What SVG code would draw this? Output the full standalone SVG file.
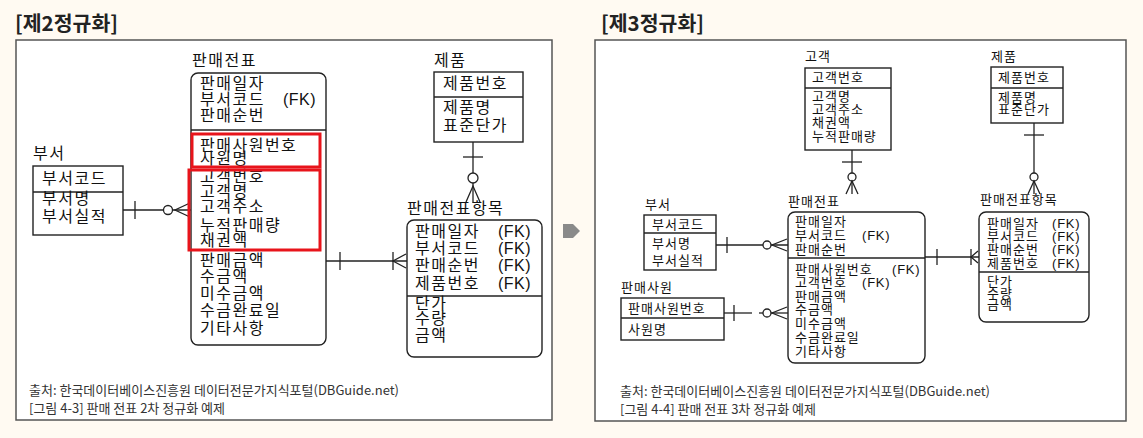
<svg xmlns="http://www.w3.org/2000/svg" width="1143" height="438" viewBox="0 0 1143 438">
<style>
.bg{fill:#fffaf2}
.frame{fill:#fff;stroke:#555;stroke-width:1.5}
.box{fill:#fff;stroke:#222;stroke-width:1.4}
.div{stroke:#222;stroke-width:1.4}
.ln{stroke:#222;stroke-width:1.3;fill:none}
.cir{stroke:#222;stroke-width:1.3;fill:#fff}
.red{fill:none;stroke:#e8141b;stroke-width:3}
.k17{font-family:"Noto Sans CJK KR","Noto Sans",sans-serif;font-size:16px;letter-spacing:1.5px;fill:#111}
.k14{font-family:"Noto Sans CJK KR","Noto Sans",sans-serif;font-size:13px;letter-spacing:1px;fill:#111}
.fk17{font-family:"Liberation Sans",Arial,sans-serif;font-size:16px;letter-spacing:0.5px;fill:#111}
.fk14{font-family:"Liberation Sans",Arial,sans-serif;font-size:13px;fill:#111;letter-spacing:0.8px}
.ttl{font-family:"Noto Sans CJK KR","Noto Sans",sans-serif;font-size:20.5px;font-weight:bold;fill:#222}
.cap{font-family:"Noto Sans CJK KR","Noto Sans",sans-serif;font-size:13px;fill:#333}
</style>
<rect class="bg" x="0" y="0" width="1143" height="438"/>

<!-- Panel frames and titles -->
<g id="panel-left">
<text class="ttl" x="15" y="31">[제2정규화]</text>
<rect class="frame" x="16" y="40" width="536" height="380"/>
<text class="cap" x="29" y="395">출처: 한국데이터베이스진흥원 데이터전문가지식포털(DBGuide.net)</text>
<text class="cap" x="29" y="413">[그림 4-3] 판매 전표 2차 정규화 예제</text>
</g>
<g id="panel-right">
<text class="ttl" x="601" y="31">[제3정규화]</text>
<rect class="frame" x="595" y="40" width="531" height="381"/>
<text class="cap" x="620" y="396">출처: 한국데이터베이스진흥원 데이터전문가지식포털(DBGuide.net)</text>
<text class="cap" x="620" y="414">[그림 4-4] 판매 전표 3차 정규화 예제</text>
</g>
<g id="arrow-between">
<polygon points="563,224 573,224 580,231 573,238 563,238" fill="#8a8a8a"/>
</g>

<!-- Connectors -->
<g id="connectors">
<!-- L: 부서 -> 판매전표 -->
<line class="ln" x1="123" y1="210" x2="191" y2="210"/>
<line class="ln" x1="135" y1="201" x2="135" y2="219"/>
<circle class="cir" cx="168" cy="210" r="4.5"/>
<polyline class="ln" points="190,203 175,210 190,217"/>
<!-- L: 판매전표 -> 판매전표항목 -->
<line class="ln" x1="326" y1="261" x2="407" y2="261"/>
<line class="ln" x1="340" y1="252" x2="340" y2="270"/>
<line class="ln" x1="393" y1="252" x2="393" y2="270"/>
<polyline class="ln" points="406,254 393,261 406,268"/>
<!-- L: 제품 -> 판매전표항목 -->
<line class="ln" x1="473" y1="142" x2="473" y2="203"/>
<line class="ln" x1="463" y1="157" x2="483" y2="157"/>
<circle class="cir" cx="473" cy="178" r="5"/>
<polyline class="ln" points="466,202 473,186 480,202"/>
<!-- R: 고객 -> 판매전표 -->
<line class="ln" x1="852" y1="150" x2="852" y2="194"/>
<line class="ln" x1="842" y1="162" x2="862" y2="162"/>
<circle class="cir" cx="852" cy="177" r="4"/>
<polyline class="ln" points="846,194 852,181 858,194"/>
<!-- R: 제품 -> 판매전표항목 -->
<line class="ln" x1="1034" y1="123" x2="1034" y2="194"/>
<line class="ln" x1="1024" y1="135" x2="1044" y2="135"/>
<circle class="cir" cx="1034" cy="177" r="4"/>
<polyline class="ln" points="1028,194 1034,181 1040,194"/>
<!-- R: 부서 -> 판매전표 -->
<line class="ln" x1="716" y1="245" x2="788" y2="245"/>
<line class="ln" x1="727" y1="237" x2="727" y2="253"/>
<circle class="cir" cx="767" cy="245" r="4"/>
<polyline class="ln" points="787,239 772,245 787,251"/>
<!-- R: 판매사원 -> 판매전표 -->
<line class="ln" x1="724" y1="313" x2="752" y2="313"/>
<line class="ln" x1="759" y1="313" x2="788" y2="313"/>
<line class="ln" x1="734" y1="305" x2="734" y2="321"/>
<circle class="cir" cx="767" cy="313" r="4"/>
<polyline class="ln" points="787,307 772,313 787,319"/>
<!-- R: 판매전표 -> 판매전표항목 -->
<line class="ln" x1="925" y1="257" x2="979" y2="257"/>
<line class="ln" x1="937" y1="249" x2="937" y2="265"/>
<line class="ln" x1="971" y1="249" x2="971" y2="265"/>
<polyline class="ln" points="978,251 971,257 978,263"/>
</g>

<!-- LEFT PANEL NODES -->
<g id="L-bu">
<text class="k17" x="33" y="159">부서</text>
<rect class="box" x="33" y="166" width="90" height="69"/>
<line class="div" x1="33" y1="192" x2="123" y2="192"/>
<text class="k17" x="42" y="184">부서코드</text>
<text class="k17" x="42" y="204">부서명</text>
<text class="k17" x="42" y="222">부서실적</text>
</g>

<g id="L-panmae">
<text class="k17" x="192" y="66">판매전표</text>
<rect class="box" x="191" y="73" width="135" height="272" rx="7"/>
<line class="div" x1="191" y1="130" x2="326" y2="130"/>
<text class="k17" x="200" y="89">판매일자</text>
<text class="k17" x="200" y="105">부서코드</text><text class="fk17" x="283" y="105">(FK)</text>
<text class="k17" x="200" y="121">판매순번</text>
<text class="k17" x="200" y="151">판매사원번호</text>
<text class="k17" x="200" y="164">사원명</text>
<text class="k17" x="200" y="182">고객번호</text>
<text class="k17" x="200" y="197">고객명</text>
<text class="k17" x="200" y="212">고객주소</text>
<text class="k17" x="200" y="231">누적판매량</text>
<text class="k17" x="200" y="246">채권액</text>
<text class="k17" x="200" y="266">판매금액</text>
<text class="k17" x="200" y="282">수금액</text>
<text class="k17" x="200" y="299">미수금액</text>
<text class="k17" x="200" y="316">수금완료일</text>
<text class="k17" x="200" y="334">기타사항</text>
<rect class="red" x="192" y="134" width="128" height="33"/>
<rect class="red" x="189" y="170" width="131" height="80"/>
</g>

<g id="L-jepum">
<text class="k17" x="434" y="66">제품</text>
<rect class="box" x="434" y="72" width="89" height="70"/>
<line class="div" x1="434" y1="97" x2="523" y2="97"/>
<text class="k17" x="443" y="89">제품번호</text>
<text class="k17" x="443" y="113">제품명</text>
<text class="k17" x="443" y="131">표준단가</text>
</g>

<g id="L-hangmok">
<text class="k17" x="407" y="214">판매전표항목</text>
<rect class="box" x="407" y="220" width="135" height="137" rx="7"/>
<line class="div" x1="407" y1="296" x2="542" y2="296"/>
<text class="k17" x="415" y="237">판매일자</text><text class="fk17" x="498" y="237">(FK)</text>
<text class="k17" x="415" y="254">부서코드</text><text class="fk17" x="498" y="254">(FK)</text>
<text class="k17" x="415" y="271">판매순번</text><text class="fk17" x="498" y="271">(FK)</text>
<text class="k17" x="415" y="289">제품번호</text><text class="fk17" x="498" y="289">(FK)</text>
<text class="k17" x="415" y="309">단가</text>
<text class="k17" x="415" y="324">수량</text>
<text class="k17" x="415" y="341">금액</text>
</g>

<!-- RIGHT PANEL NODES -->
<g id="R-gogaek">
<text class="k14" x="805" y="61">고객</text>
<rect class="box" x="805" y="68" width="86" height="82"/>
<line class="div" x1="805" y1="88" x2="891" y2="88"/>
<text class="k14" x="812" y="82">고객번호</text>
<text class="k14" x="812" y="101">고객명</text>
<text class="k14" x="812" y="114">고객주소</text>
<text class="k14" x="812" y="127">채권액</text>
<text class="k14" x="812" y="141">누적판매량</text>
</g>

<g id="R-jepum">
<text class="k14" x="991" y="61">제품</text>
<rect class="box" x="991" y="67" width="72" height="56"/>
<line class="div" x1="991" y1="88" x2="1063" y2="88"/>
<text class="k14" x="998" y="82">제품번호</text>
<text class="k14" x="998" y="102">제품명</text>
<text class="k14" x="998" y="114">표준단가</text>
</g>

<g id="R-bu">
<text class="k14" x="645" y="209">부서</text>
<rect class="box" x="644" y="215" width="72" height="55"/>
<line class="div" x1="644" y1="233" x2="716" y2="233"/>
<text class="k14" x="652" y="229">부서코드</text>
<text class="k14" x="652" y="248">부서명</text>
<text class="k14" x="652" y="265">부서실적</text>
</g>

<g id="R-sawon">
<text class="k14" x="621" y="292">판매사원</text>
<rect class="box" x="621" y="298" width="103" height="42"/>
<line class="div" x1="621" y1="318" x2="724" y2="318"/>
<text class="k14" x="628" y="313">판매사원번호</text>
<text class="k14" x="628" y="334">사원명</text>
</g>

<g id="R-panmae">
<text class="k14" x="788" y="206">판매전표</text>
<rect class="box" x="788" y="212" width="137" height="151" rx="7"/>
<line class="div" x1="788" y1="258" x2="925" y2="258"/>
<text class="k14" x="795" y="226">판매일자</text>
<text class="k14" x="795" y="240">부서코드</text><text class="fk14" x="862" y="240">(FK)</text>
<text class="k14" x="795" y="254">판매순번</text>
<text class="k14" x="795" y="274">판매사원번호</text><text class="fk14" x="892" y="274">(FK)</text>
<text class="k14" x="795" y="287">고객번호</text><text class="fk14" x="862" y="287">(FK)</text>
<text class="k14" x="795" y="301">판매금액</text>
<text class="k14" x="795" y="314">수금액</text>
<text class="k14" x="795" y="328">미수금액</text>
<text class="k14" x="795" y="342">수금완료일</text>
<text class="k14" x="795" y="356">기타사항</text>
</g>

<g id="R-hangmok">
<text class="k14" x="980" y="204">판매전표항목</text>
<rect class="box" x="979" y="212" width="110" height="110" rx="7"/>
<line class="div" x1="979" y1="272" x2="1089" y2="272"/>
<text class="k14" x="987" y="228">판매일자</text><text class="fk14" x="1052" y="228">(FK)</text>
<text class="k14" x="987" y="241">부서코드</text><text class="fk14" x="1052" y="241">(FK)</text>
<text class="k14" x="987" y="254">판매순번</text><text class="fk14" x="1052" y="254">(FK)</text>
<text class="k14" x="987" y="268">제품번호</text><text class="fk14" x="1052" y="268">(FK)</text>
<text class="k14" x="987" y="286">단가</text>
<text class="k14" x="987" y="298">수량</text>
<text class="k14" x="987" y="309">금액</text>
</g>
</svg>
